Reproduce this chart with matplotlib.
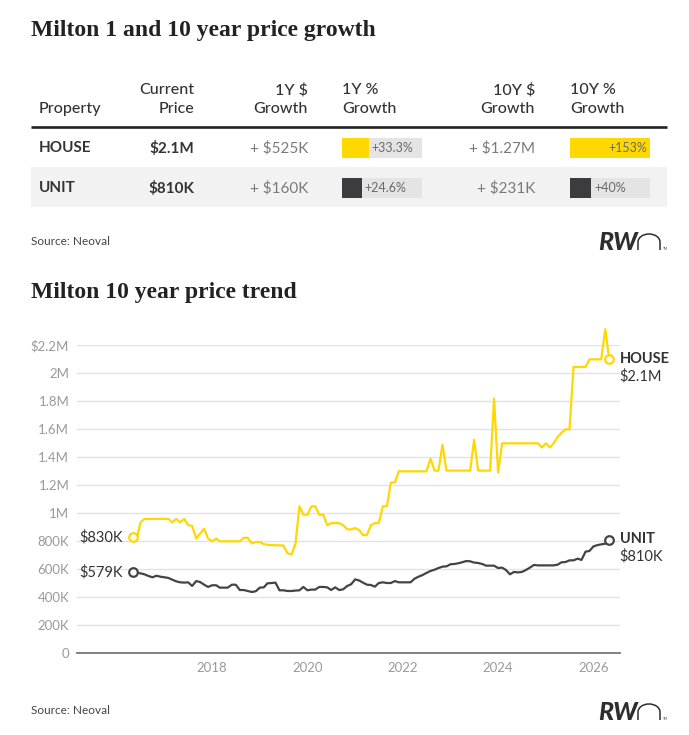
import matplotlib
matplotlib.use('Agg')
import matplotlib.pyplot as plt
from matplotlib.patches import Rectangle, Arc
import pandas as pd

# --- Table data ---
properties = ['HOUSE', 'UNIT']
current_price = ['$2.1M', '$810K']
growth_1y_dollar = ['+ $525K', '+ $160K']
growth_1y_pct = [33.3, 24.6]
growth_10y_dollar = ['+ $1.27M', '+ $231K']
growth_10y_pct = [153, 40]

# --- Trend data: monthly median price in $K, May 2016 - May 2026 ---
months = pd.date_range('2016-05-01', periods=121, freq='MS')
house_k = [830, 815, 935, 960, 960, 960, 960, 960, 960, 960,
           935, 960, 935, 960, 915, 910, 820, 855, 890, 820,
           800, 820, 800, 800, 800, 800, 800, 800, 825, 825,
           785, 795, 795, 780, 775, 773, 772, 771, 770, 715,
           705, 780, 1050, 990, 990, 1050, 1050, 990, 990, 915,
           930, 930, 930, 915, 885, 885, 895, 880, 845, 845,
           915, 930, 930, 1050, 1050, 1220, 1220, 1300, 1300, 1300,
           1300, 1300, 1300, 1300, 1300, 1390, 1305, 1305, 1490, 1305,
           1305, 1305, 1305, 1305, 1305, 1305, 1525, 1305, 1305, 1305,
           1305, 1820, 1290, 1500, 1500, 1500, 1500, 1500, 1500, 1500,
           1500, 1500, 1500, 1470, 1500, 1470, 1500, 1545, 1575, 1600,
           1600, 2045, 2045, 2045, 2045, 2100, 2100, 2100, 2100, 2315,
           2100]
unit_k = [579, 577, 571, 564, 552, 543, 554, 547, 543, 538,
          526, 514, 507, 505, 507, 481, 516, 509, 490, 474,
          486, 486, 469, 469, 469, 490, 490, 452, 452, 445,
          438, 443, 469, 471, 500, 502, 505, 450, 450, 445,
          445, 448, 450, 474, 450, 455, 455, 474, 474, 471,
          452, 471, 452, 457, 481, 493, 528, 520, 505, 490,
          488, 476, 502, 507, 502, 502, 516, 507, 507, 507,
          507, 533, 547, 559, 574, 588, 597, 609, 619, 621,
          636, 638, 643, 650, 659, 657, 648, 645, 638, 626,
          626, 626, 609, 612, 595, 564, 581, 578, 581, 595,
          612, 631, 628, 628, 628, 628, 628, 633, 650, 652,
          664, 664, 676, 667, 726, 731, 764, 773, 778, 783,
          810]
series_names = ['HOUSE', 'UNIT']
start_labels = ['$830K', '$579K']
end_labels = ['$2.1M', '$810K']

y_ticks = [0, 200e3, 400e3, 600e3, 800e3, 1e6, 1.2e6, 1.4e6, 1.6e6, 1.8e6, 2e6, 2.2e6]
y_tick_labels = ['0', '200K', '400K', '600K', '800K', '1M', '1.2M', '1.4M', '1.6M', '1.8M', '2M', '$2.2M']
x_years = [2018, 2020, 2022, 2024, 2026]

# --- Style ---
W, H = 689, 735
YELLOW = '#FFD800'
DARK = '#3c3c40'
TEXT = '#333333'
plt.rcParams['font.family'] = ['Lato', 'DejaVu Sans']

fig = plt.figure(figsize=(W / 100, H / 100), dpi=100)
fig.patch.set_facecolor('white')

# overlay in pixel coordinates for titles / table furniture
ov = fig.add_axes([0, 0, 1, 1])
ov.set_xlim(0, W)
ov.set_ylim(H, 0)
ov.axis('off')

title_kw = dict(family=['Liberation Serif', 'DejaVu Serif'], weight='bold', fontsize=17, color='#222222', va='center')
ov.text(31, 30, 'Milton 1 and 10 year price growth', **title_kw)
ov.text(31, 292, 'Milton 10 year price trend', **title_kw)

# --- Table ---
ov.add_patch(Rectangle((31, 167), 636, 40, color='#f2f2f2', lw=0))
ov.plot([31, 667], [126.7, 126.7], color='#222222', lw=1.9, solid_capstyle='butt')

head_kw = dict(fontsize=11.5, color=TEXT, va='center', weight='medium')
ov.text(39, 109, 'Property', ha='left', **head_kw)
for x, ha, l1 in [(194, 'right', 'Current'), (308, 'right', '1Y $'), (342, 'left', '1Y %'),
                  (535, 'right', '10Y $'), (570, 'left', '10Y %')]:
    ov.text(x, 90, l1, ha=ha, **head_kw)
    ov.text(x, 109, 'Price' if l1 == 'Current' else 'Growth', ha=ha, **head_kw)

row_y = [148, 188]
fills = [YELLOW, DARK]
for i, name in enumerate(properties):
    y = row_y[i]
    ov.text(39, y, name, ha='left', va='center', fontsize=11, weight='bold', color=TEXT)
    ov.text(194, y, current_price[i], ha='right', va='center', fontsize=11, weight='bold', color=TEXT)
    ov.text(308, y, growth_1y_dollar[i], ha='right', va='center', fontsize=11, color='#7a7a7a')
    ov.text(535, y, growth_10y_dollar[i], ha='right', va='center', fontsize=11, color='#7a7a7a')

    for x0, col in [(342, growth_1y_pct), (570, growth_10y_pct)]:
        dom = max(100, max(col))
        bax = fig.add_axes([x0 / W, 1 - (y + 10.3) / H, 80 / W, 20.6 / H])
        bax.barh([0], [dom], height=1, color='#e4e4e4')
        bax.barh([0], [min(col[i], dom)], height=1, color=fills[i])
        bax.set_xlim(0, dom)
        bax.set_ylim(-0.5, 0.5)
        bax.axis('off')
        lab = f'+{col[i]:g}%'
        if col[i] >= dom:
            bax.annotate(lab, (dom, 0), xytext=(-2, 0), textcoords='offset points',
                         ha='right', va='center', fontsize=9, color='#6a6a6a')
        else:
            bax.annotate(lab, (col[i], 0), xytext=(2.2, 0), textcoords='offset points',
                         ha='left', va='center', fontsize=9, color='#6a6a6a')


def source_and_logo(y):
    ov.text(31, y, 'Source: Neoval', ha='left', va='center', fontsize=8.5, color='#444444')
    ov.text(598, y + 9, 'RW', ha='left', va='baseline', fontsize=18, weight='black',
            style='italic', color='#2e2e2e')
    # thin arch for the "n" of the logo (y axis of the overlay is inverted)
    ov.add_patch(Arc((649, y + 1), 22, 16, theta1=180, theta2=360, color='#2e2e2e', lw=1.1))
    ov.plot([638, 638], [y + 1, y + 9], color='#2e2e2e', lw=1.1, solid_capstyle='butt')
    ov.plot([660, 660], [y + 1, y + 9], color='#2e2e2e', lw=1.1, solid_capstyle='butt')
    ov.text(663, y + 9, 'TM', ha='left', va='baseline', fontsize=2.5, color='#555555')


source_and_logo(241)
source_and_logo(711)

# --- Trend chart ---
ax = fig.add_axes([77.3 / W, 1 - 653.3 / H, 542.7 / W, 308 / H])
ax.set_zorder(3)
ax.patch.set_alpha(0)
colors = [YELLOW, '#444444']
for name, vals, c, sl, el in zip(series_names, [house_k, unit_k], colors, start_labels, end_labels):
    v = [k * 1000 for k in vals]
    ax.plot(months, v, color=c, lw=1.6, clip_on=False, zorder=3)
    for j in (0, -1):
        ax.plot(months[j], v[j], 'o', ms=6.2, mfc='white', mec=c, mew=1.6, clip_on=False, zorder=4)
    ax.annotate(sl, (months[0], v[0]), xytext=(-7, 0), textcoords='offset points',
                ha='right', va='center', fontsize=10.5, color=TEXT)
    ax.annotate(name, (months[-1], v[-1]), xytext=(7.5, 0.5), textcoords='offset points',
                ha='left', va='center', fontsize=10.5, weight='bold', color=TEXT)
    ax.annotate(el, (months[-1], v[-1]), xytext=(7.5, -12), textcoords='offset points',
                ha='left', va='center', fontsize=10.5, color=TEXT)

ax.set_ylim(0, 2.2e6)
ax.set_yticks(y_ticks, y_tick_labels)
ax.set_xlim(pd.Timestamp('2015-03-05'), pd.Timestamp('2026-07-23'))
ax.set_xticks([pd.Timestamp(f'{yr}-01-01') for yr in x_years], [str(yr) for yr in x_years])
ax.grid(axis='y', color='#e3e3e3', lw=1)
ax.set_axisbelow(True)
ax.tick_params(axis='both', length=0, colors='#9a9a9a', labelsize=9.5)
ax.tick_params(axis='y', pad=5.8)
ax.tick_params(axis='x', pad=6)
for s in ['top', 'right', 'left']:
    ax.spines[s].set_visible(False)
ax.spines['bottom'].set_color('#777777')
ax.spines['bottom'].set_linewidth(1.3)

fig.savefig('out.png', dpi=100)
